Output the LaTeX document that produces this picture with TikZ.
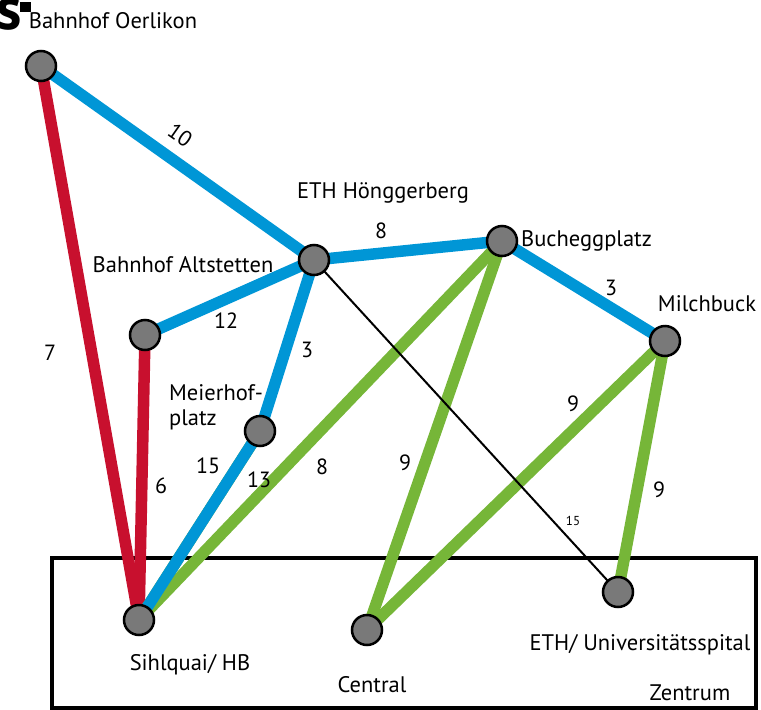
\documentclass[tikz,border=0pt]{standalone}
\usepackage{fontspec}
\setmainfont{PT Sans}
\usetikzlibrary{positioning}

\definecolor{linieblau}{RGB}{0,150,214}
\definecolor{linierot}{RGB}{200,16,46}
\definecolor{liniegruen}{RGB}{118,182,56}

\tikzset{
  halt/.style={circle, draw=black, line width=2.5pt, fill=gray!95!black, minimum size=30pt, inner sep=0pt},
  ort/.style={font=\fontsize{22.5}{25}\selectfont, inner sep=0pt},
  zahl/.style={font=\fontsize{22}{25}\selectfont, inner sep=0pt},
  blau/.style={linieblau, line width=11.5pt},
  rot/.style={linierot, line width=11.5pt},
  gruen/.style={liniegruen, line width=11.5pt},
  fuss/.style={black, line width=2pt}
}

\begin{document}
\begin{tikzpicture}[x=1pt,y=-1pt]
\useasboundingbox (0,0) rectangle (761,710);

% Rest vom Titel
\begin{scope}
\clip (0,0) rectangle (60,40);
\node[anchor=base west, inner sep=0pt, font=\fontsize{60}{64}\bfseries\selectfont] (titel) at (-4,29) {s\kern-2pt\raisebox{17pt}{\rule{11pt}{10pt}}};
\end{scope}

% Zentrum
\draw[line width=4.5pt] (52,558) rectangle (756,708);
\node[ort] (zentrum) at (690,693) {Zentrum};

% Haltestellen
\coordinate (poer) at (41,66);
\coordinate (peth) at (314,260);
\coordinate (pbuc) at (502,241);
\coordinate (pmil) at (665,341);
\coordinate (palt) at (145,335);
\coordinate (pmei) at (260,431);
\coordinate (phb)  at (139,620);
\coordinate (pcen) at (367,630);
\coordinate (pusz) at (618,592);

% Linien
\draw[rot] (poer) -- (phb);
\draw[rot] (palt) -- (phb);
\draw[gruen] (pmei) -- (phb);
\draw[gruen] (pbuc) -- (phb);
\draw[gruen] (pbuc) -- (pcen);
\draw[gruen] (pmil) -- (pcen);
\draw[gruen] (pmil) -- (pusz);
\draw[blau] (poer) -- (peth);
\draw[blau] (palt) -- (peth);
\draw[blau] (peth) -- (pbuc);
\draw[blau] (pbuc) -- (pmil);
\draw[blau] (peth) -- (pmei);
\draw[blau] (pmei) -- (phb);
\draw[fuss] (peth) -- (pusz);

% Knoten
\node[halt] (oer) at (poer) {};
\node[halt] (eth) at (peth) {};
\node[halt] (buc) at (pbuc) {};
\node[halt] (mil) at (pmil) {};
\node[halt] (alt) at (palt) {};
\node[halt] (mei) at (pmei) {};
\node[halt] (hb)  at (phb) {};
\node[halt] (cen) at (pcen) {};
\node[halt] (usz) at (pusz) {};

% Namen
\node[ort] (noer) at (113,21) {Bahnhof Oerlikon};
\node[ort] (neth) at (383,193) {ETH Hönggerberg};
\node[ort, anchor=west] (nbuc) at (521,241) {Bucheggplatz};
\node[ort] (nmil) at (707,304) {Milchbuck};
\node[ort] (nalt) at (183,265) {Bahnhof Altstetten};
\node[ort, anchor=north west, align=left] (nmei) at (169,384) {Meierhof-\\platz};
\node[ort] (nhb) at (190,665) {Sihlquai/ HB};
\node[ort] (ncen) at (372,685) {Central};
\node[ort] (nusz) at (640,645) {ETH/ Universitätsspital};

% Zeiten
\node[zahl, rotate=-35] (z1) at (180,135) {10};
\node[zahl] (z2) at (50,353) {7};
\node[zahl] (z3) at (226,321) {12};
\node[zahl] (z4) at (381,231) {8};
\node[zahl] (z5) at (611,288) {3};
\node[zahl] (z6) at (307,350) {3};
\node[zahl] (z7) at (161,486) {6};
\node[zahl] (z8) at (208,466) {15};
\node[zahl] (z9) at (259,480) {13};
\node[zahl] (z10) at (322,467) {8};
\node[zahl] (z11) at (405,463) {9};
\node[zahl] (z12) at (573,404) {9};
\node[zahl] (z13) at (659,490) {9};
\node[zahl, font=\fontsize{13}{15}\selectfont] (z14) at (573,521) {15};

\end{tikzpicture}
\end{document}
